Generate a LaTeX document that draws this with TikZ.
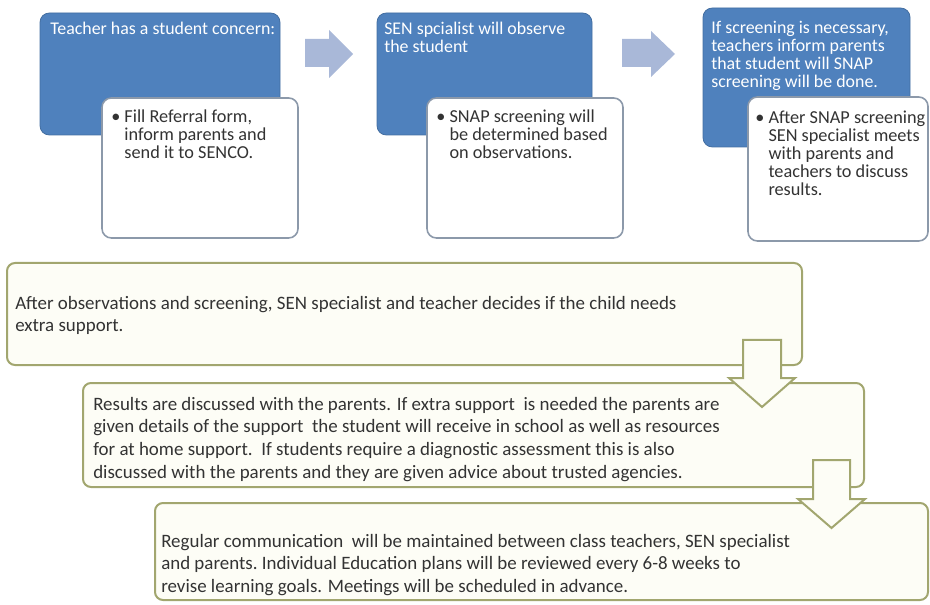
\documentclass[tikz,border=0pt]{standalone}
\usepackage{fontspec}
\setmainfont{Carlito}
\usetikzlibrary{fit}
\definecolor{stepblue}{HTML}{4F81BD}
\definecolor{notegray}{HTML}{8C99AA}
\definecolor{flowarrow}{HTML}{A9B8D8}
\definecolor{planolive}{HTML}{A2A66F}
\definecolor{plancream}{HTML}{FDFDF6}
\definecolor{bodyink}{HTML}{333333}
\newcommand{\bulletpad}{\phantom{\textbullet\ }}

\begin{document}
\begin{tikzpicture}[x=0.75pt, y=-0.75pt,
  bluebox/.style={fill=stepblue, draw=stepblue!85!black, line width=0.6pt, rounded corners=7pt, inner sep=0pt},
  notebox/.style={fill=white, draw=notegray, line width=1.2pt, rounded corners=7pt, inner sep=0pt},
  planbox/.style={fill=plancream, draw=planolive, line width=1.5pt, rounded corners=6pt, inner sep=0pt},
  headtext/.style={font=\fontsize{13.4}{13.5}\selectfont, text=white, align=left, inner sep=0pt, anchor=north west},
  notetext/.style={font=\fontsize{13.7}{13.5}\selectfont, text=bodyink, align=left, inner sep=0pt, anchor=north west},
  plantext/.style={font=\fontsize{14.2}{16.9}\selectfont, text=bodyink, align=left, inner sep=0pt, anchor=north west},
  rightarrow/.style={fill=flowarrow},
  downarrow/.style={fill=plancream, draw=planolive, line width=1.5pt, line join=miter}]
  \useasboundingbox (0,0) rectangle (930,605);

  % top row: steps with their notes
  \node[bluebox, fit={(40,13) (280,135)}] (concern) {};
  \node[bluebox, fit={(377,13) (592,135)}] (observe) {};
  \node[bluebox, fit={(703,8) (910,147)}] (inform) {};
  \node[notebox, fit={(102,98) (298,238)}] (referral) {};
  \node[notebox, fit={(427,98) (623,238)}] (snap) {};
  \node[notebox, fit={(748,97) (928,241)}] (meet) {};

  \node[headtext] (concerntxt) at (50,22) {Teacher has a student concern:};
  \node[headtext] (observetxt) at (384,22) {SEN spcialist will observe\\the student};
  \node[headtext] (informtxt) at (711,21) {If screening is necessary,\\teachers inform parents\\that student will SNAP\\screening will be done.};
  \node[notetext] (referraltxt) at (111,110) {\textbullet\ Fill Referral form,\\\bulletpad inform parents and\\\bulletpad send it to SENCO.};
  \node[notetext] (snaptxt) at (436,110) {\textbullet\ SNAP screening will\\\bulletpad be determined based\\\bulletpad on observations.};
  \node[notetext] (meettxt) at (755,111) {\textbullet\ After SNAP screening\\\bulletpad SEN specialist meets\\\bulletpad with parents and\\\bulletpad teachers to discuss\\\bulletpad results.};

  \fill[rightarrow] (305,39) -- (329,39) -- (329,30) -- (353,54) -- (329,78) -- (329,67) -- (305,67) -- cycle;
  \fill[rightarrow] (622,39) -- (651,39) -- (651,31) -- (675,54) -- (651,77) -- (651,67) -- (622,67) -- cycle;

  % bottom: decision and follow-up
  \node[planbox, fit={(7,263) (802,365)}] (decide) {};
  \node[planbox, fit={(83,383) (864,487)}] (discuss) {};
  \node[planbox, fit={(155,503) (928,600)}] (review) {};

  \node[plantext] (decidetxt) at (15,296) {After observations and screening, SEN specialist and teacher decides if the child needs\\extra support.};
  \node[plantext] (discusstxt) at (93,397) {Results are discussed with the parents. If extra support\ \ is needed the parents are\\given details of the support\ \ the student\ will receive in school as well as resources\\for at home support.\ \ If students require\ a diagnostic assessment this is also\\discussed with the parents and they are given advice about trusted agencies.};
  \node[plantext] (reviewtxt) at (161,534) {Regular communication\ \ will be maintained\ between\ class teachers, SEN specialist\\and parents.\ Individual\ Education plans will be reviewed every 6-8 weeks to\\revise learning goals. Meetings will be scheduled in advance.};

  \filldraw[downarrow] (743,340) -- (781,340) -- (781,378) -- (795,378) -- (762,407) -- (729,378) -- (743,378) -- cycle;
  \filldraw[downarrow] (813,460) -- (850,460) -- (850,499) -- (865,499) -- (831.5,528) -- (798,499) -- (813,499) -- cycle;
\end{tikzpicture}
\end{document}
